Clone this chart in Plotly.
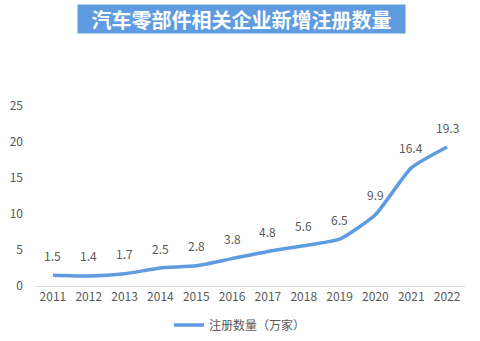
import plotly.graph_objects as go

years = ["2011", "2012", "2013", "2014", "2015", "2016", "2017", "2018", "2019", "2020", "2021", "2022"]
registrations = [1.5, 1.4, 1.7, 2.5, 2.8, 3.8, 4.8, 5.6, 6.5, 9.9, 16.4, 19.3]
y_ticks = [0, 5, 10, 15, 20, 25]

line_color = "#5E9BE0"
text_color = "#595959"
font_family = "Noto Sans CJK SC, Noto Sans, sans-serif"

W, H = 480, 341
M_L, M_R, M_T, M_B = 35, 15, 106, 55
plot_w = W - M_L - M_R
plot_h = H - M_T - M_B

fig = go.Figure()
fig.add_trace(go.Scatter(
    x=years,
    y=registrations,
    mode="lines",
    name="注册数量（万家）",
    line=dict(color=line_color, width=3.5, shape="spline", smoothing=0.5),
    hoverinfo="x+y",
))

# value labels sitting above each point (category index positions)
value_labels = [
    dict(
        x=i, y=v, xref="x", yref="y",
        text=f"{v:.1f}",
        showarrow=False,
        yshift=20,
        font=dict(size=12, color=text_color, family=font_family),
    )
    for i, v in enumerate(registrations)
]

# title banner centred at (241.5, 19) px
title_box = dict(
    text="<b>汽车零部件相关企业新增注册数量</b>",
    xref="paper", yref="paper",
    x=(241.5 - M_L) / plot_w, y=(H - M_B - 19) / plot_h,
    xanchor="center", yanchor="middle",
    showarrow=False,
    font=dict(size=20, color="white", family=font_family),
    bgcolor=line_color,
    borderpad=0,
    width=327, height=28,
)

fig.update_layout(
    width=W,
    height=H,
    margin=dict(l=M_L, r=M_R, t=M_T, b=M_B, autoexpand=False),
    paper_bgcolor="white",
    plot_bgcolor="white",
    font=dict(family=font_family, color=text_color, size=12),
    showlegend=True,
    legend=dict(
        orientation="h",
        xref="container", yref="container",
        x=240 / W, xanchor="center",
        y=1 - 325 / H, yanchor="middle",
        font=dict(size=12, color=text_color),
    ),
    xaxis=dict(
        type="category",
        categoryorder="array",
        categoryarray=years,
        range=[-0.5, len(years) - 0.5],
        showgrid=False,
        showline=True,
        linecolor="#D9D9D9",
        linewidth=1,
        ticks="",
        tickfont=dict(size=12, color=text_color),
    ),
    yaxis=dict(
        range=[0, 25],
        tickvals=y_ticks,
        showgrid=False,
        showline=False,
        zeroline=False,
        ticks="",
        ticklabelstandoff=11,
        tickfont=dict(size=12, color=text_color),
    ),
    annotations=value_labels + [title_box],
)

fig.write_html("out.html")
